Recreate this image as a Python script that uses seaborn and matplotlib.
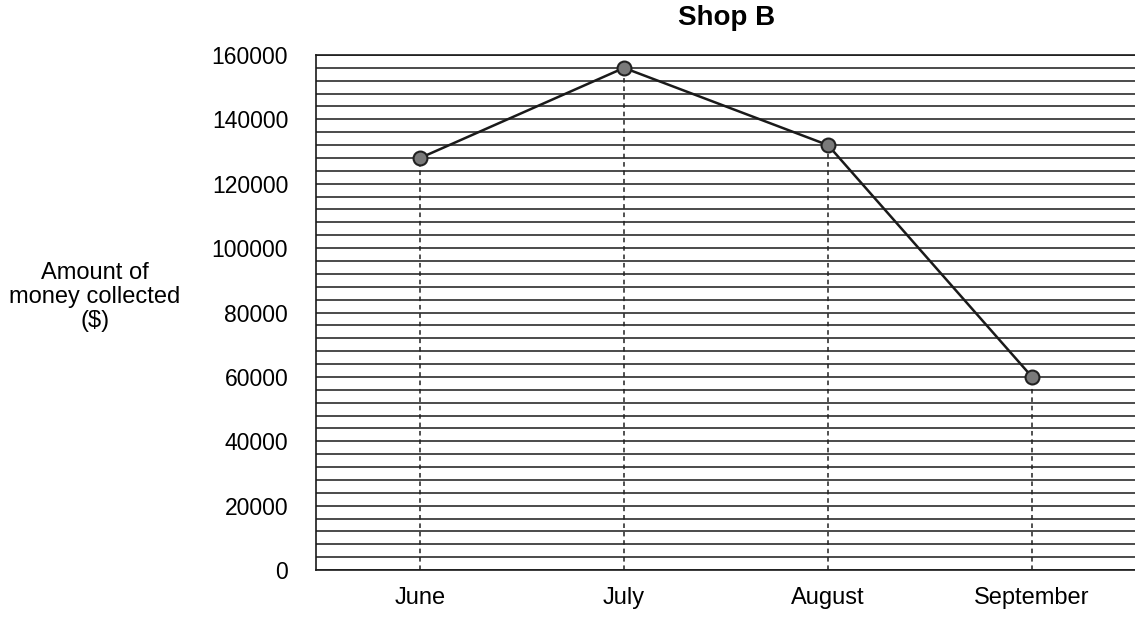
import numpy as np
import pandas as pd
import matplotlib
matplotlib.use("Agg")
import matplotlib.pyplot as plt
import seaborn as sns

# Data
months = ["June", "July", "August", "September"]
money = [128000, 156000, 132000, 60000]
y_major = [0, 20000, 40000, 60000, 80000, 100000, 120000, 140000, 160000]
grid_step = 4000

sns.set_style("white")
plt.rcParams["font.family"] = ["Liberation Sans", "DejaVu Sans"]
plt.rcParams["text.color"] = "black"
plt.rcParams["xtick.color"] = "black"
plt.rcParams["ytick.color"] = "black"

df = pd.DataFrame({"pos": np.arange(len(months)), "month": months, "money": money})

fig = plt.figure(figsize=(11.35, 6.21), dpi=100)
ax = fig.add_axes([316 / 1135, 1 - 570 / 621, 1 - 316 / 1135, (570 - 55) / 621])

# dense horizontal ruling
ax.set_yticks(y_major)
ax.set_yticks(np.arange(0, y_major[-1] + 1, grid_step), minor=True)
ax.grid(which="both", axis="y", color="#1a1a1a", linewidth=1.1)
ax.set_axisbelow(True)

# dashed drop lines from each point
ax.vlines(df["pos"], 0, df["money"], colors="#222222", linestyles=(0, (3, 2.5)),
          linewidth=1.1, zorder=2)

sns.lineplot(data=df, x="pos", y="money", ax=ax, color="#1a1a1a", linewidth=1.8,
             marker="o", markersize=10, markerfacecolor="#7a7a7a",
             markeredgecolor="#222222", markeredgewidth=1.5, zorder=3)

ax.set_xlim(-0.51, 3.505)
ax.set_ylim(0, y_major[-1])
ax.set_xticks(df["pos"])
ax.set_xticklabels(months)
ax.set_xlabel("")
ax.set_ylabel("")

ax.spines["right"].set_visible(False)
for side in ["left", "top", "bottom"]:
    ax.spines[side].set_color("#1a1a1a")
    ax.spines[side].set_linewidth(1.2)

ax.tick_params(axis="y", which="major", labelsize=16.5, pad=20, length=0)
ax.tick_params(axis="y", which="minor", length=3, color="#1a1a1a", direction="out")
ax.tick_params(axis="x", labelsize=17, pad=12, length=0)

fig.text(727 / 1135, 1 - 18 / 621, "Shop B", ha="center", va="center",
         fontsize=20, fontweight="bold")
fig.text(95 / 1135, 1 - 297 / 621, "Amount of\nmoney collected\n($)",
         ha="center", va="center", fontsize=17, linespacing=1.12)

fig.savefig("out.png", dpi=100)
